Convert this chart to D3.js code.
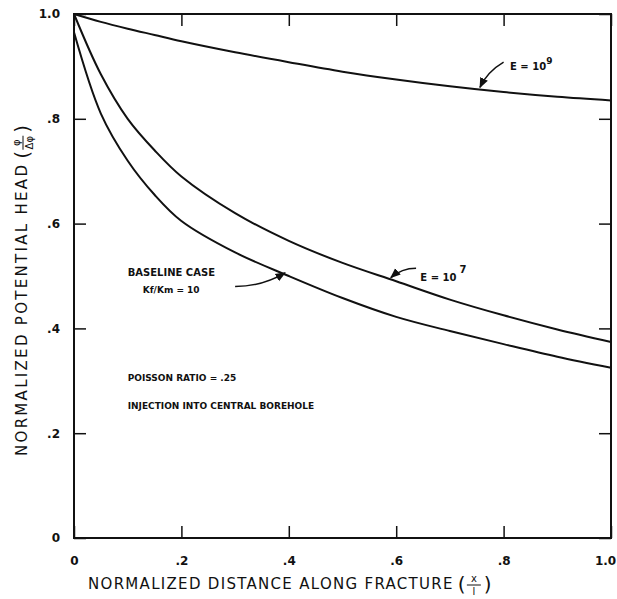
<!DOCTYPE html>
<html>
<head>
<meta charset="utf-8">
<script src="https://cdn.jsdelivr.net/npm/d3@7"></script>
<style>
  body { margin: 0; background: #fff; }
  text { font-family: "DejaVu Sans", sans-serif; fill: #111; }
</style>
</head>
<body>
<div id="chart"></div>
<script>
// ---------Data----------
const xVals = [0, 0.05, 0.1, 0.15, 0.2, 0.3, 0.4, 0.5, 0.6, 0.7, 0.8, 0.9, 1.0];
const headE9 = [1.0, 0.985, 0.972, 0.96, 0.948, 0.927, 0.908, 0.89, 0.875, 0.862, 0.851, 0.842, 0.835];
const headE7 = [1.0, 0.885, 0.80, 0.74, 0.69, 0.62, 0.567, 0.525, 0.49, 0.455, 0.425, 0.398, 0.374];
const headBase = [0.965, 0.81, 0.72, 0.655, 0.605, 0.545, 0.50, 0.458, 0.422, 0.395, 0.37, 0.346, 0.325];
const tickVals = [0, 0.2, 0.4, 0.6, 0.8, 1.0];
const tickLabels = ["0", ".2", ".4", ".6", ".8", "1.0"];

// dimensions
const width = 617;
const height = 599;
const margin = { top: 14, right: 6, bottom: 61, left: 74 };
const innerW = width - margin.left - margin.right;
const innerH = height - margin.top - margin.bottom;

const svg = d3.select("#chart")
  .append("svg")
  .attr("width", width)
  .attr("height", height);

const g = svg.append("g")
  .attr("transform", `translate(${margin.left}, ${margin.top})`);

// scales
const x = d3.scaleLinear().domain([0, 1]).range([0, innerW]);
const y = d3.scaleLinear().domain([0, 1]).range([innerH, 0]);

const fmt = d => tickLabels[tickVals.indexOf(d)];

// axes, ticks pointing inward
const axB = g.append("g")
  .attr("transform", `translate(0, ${innerH})`)
  .call(d3.axisBottom(x).tickValues(tickVals).tickSize(-12).tickPadding(18).tickFormat(fmt));
const axL = g.append("g")
  .call(d3.axisLeft(y).tickValues(tickVals).tickSize(-12).tickPadding(18).tickFormat(fmt));
g.append("g")
  .call(d3.axisTop(x).tickValues(tickVals).tickSize(-12).tickFormat(""));
g.append("g")
  .attr("transform", `translate(${innerW}, 0)`)
  .call(d3.axisRight(y).tickValues(tickVals).tickSize(-12).tickFormat(""));

g.selectAll(".domain").remove();
g.selectAll(".tick line").attr("stroke", "#111").attr("stroke-width", 1.5);
g.selectAll(".tick text")
  .style("font-size", "12px")
  .style("font-weight", "bold")
  .style("fill", "#111");
axL.selectAll(".tick text").attr("dx", 4);
// keep the last x label inside the window
axB.selectAll(".tick text").filter(d => d === 1).attr("dx", -6);

// frame
g.append("rect")
  .attr("x", 0).attr("y", 0)
  .attr("width", innerW).attr("height", innerH)
  .attr("fill", "none")
  .attr("stroke", "#111")
  .attr("stroke-width", 2);

// curves
const line = d3.line()
  .x((d, i) => x(xVals[i]))
  .y(d => y(d))
  .curve(d3.curveCatmullRom.alpha(0.5));

[headE9, headE7, headBase].forEach(s => {
  g.append("path")
    .attr("d", line(s))
    .attr("fill", "none")
    .attr("stroke", "#111")
    .attr("stroke-width", 2);
});

// arrowhead
svg.append("defs").append("marker")
  .attr("id", "arr")
  .attr("viewBox", "0 0 10 10")
  .attr("refX", 9).attr("refY", 5)
  .attr("markerWidth", 7).attr("markerHeight", 7)
  .attr("orient", "auto")
  .append("path")
  .attr("d", "M0,1 L10,5 L0,9 z")
  .attr("fill", "#111");

const arrow = (x0, y0, cx, cy, x1, y1) => {
  g.append("path")
    .attr("d", `M${x(x0)},${y(y0)} Q${x(cx)},${y(cy)} ${x(x1)},${y(y1)}`)
    .attr("fill", "none")
    .attr("stroke", "#111")
    .attr("stroke-width", 1.5)
    .attr("marker-end", "url(#arr)");
};

// annotations
const note = (xv, yv, txt, size) => g.append("text")
  .attr("x", x(xv)).attr("y", y(yv))
  .style("font-size", size + "px")
  .style("font-weight", "bold")
  .text(txt);

const e9 = note(0.812, 0.893, "E = 10", 10);
e9.append("tspan").attr("dy", -6).style("font-size", "9px").text("9");
arrow(0.80, 0.908, 0.77, 0.89, 0.756, 0.86);

const e7 = note(0.645, 0.49, "E = 10", 10);
e7.append("tspan").attr("dy", -8).attr("dx", 3).style("font-size", "10px").text("7");
arrow(0.637, 0.515, 0.61, 0.515, 0.59, 0.497);

note(0.1, 0.50, "BASELINE CASE", 10);
note(0.128, 0.467, "Kf/Km = 10", 9);
arrow(0.3, 0.48, 0.35, 0.48, 0.393, 0.506);

note(0.1, 0.30, "POISSON RATIO = .25", 9);
note(0.1, 0.247, "INJECTION INTO CENTRAL BOREHOLE", 9);

// axis title with a small fraction after it
const titleWithFraction = (grp, label, num, den, spacing) => {
  const t = grp.append("text")
    .style("font-size", "15px")
    .style("letter-spacing", spacing + "px")
    .text(label);
  const w = t.node().getComputedTextLength();
  grp.append("text").attr("x", w + 4).attr("y", 2).style("font-size", "20px").text("(");
  const fx = w + 20;
  grp.append("text").attr("x", fx).attr("y", -7).attr("text-anchor", "middle").style("font-size", "10px").text(num);
  grp.append("line").attr("x1", fx - 7).attr("x2", fx + 7).attr("y1", -4).attr("y2", -4).attr("stroke", "#111");
  grp.append("text").attr("x", fx).attr("y", 6).attr("text-anchor", "middle").style("font-size", "10px").text(den);
  grp.append("text").attr("x", fx + 10).attr("y", 2).style("font-size", "20px").text(")");
};

titleWithFraction(svg.append("g").attr("transform", "translate(88, 589)"),
  "NORMALIZED DISTANCE ALONG FRACTURE", "x", "l", 1.3);
titleWithFraction(svg.append("g").attr("transform", "translate(27, 456) rotate(-90)"),
  "NORMALIZED POTENTIAL HEAD", "φ", "Δφ", 2.3);
</script>
</body>
</html>
